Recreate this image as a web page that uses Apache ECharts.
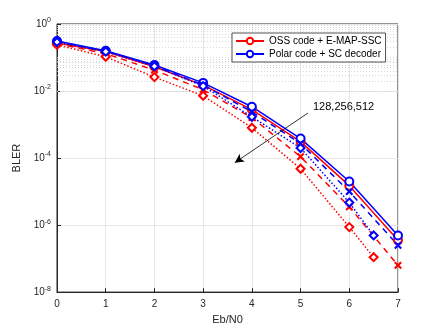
<!DOCTYPE html>
<html>
<head>
<meta charset="utf-8">
<script src="https://cdn.jsdelivr.net/npm/echarts@6/dist/echarts.min.js"></script>
<style>
    html, body { margin: 0; padding: 0; background: #fff; }
    #chart { width: 440px; height: 330px; }
</style>
</head>
<body>
<div id="chart"></div>
<script>
// Eb/N0 points
var snrFull = [0, 1, 2, 3, 4, 5, 6, 7];
var snrShort = [0, 1, 2, 3, 4, 5, 6, 6.5];

// BLER
var ossSolid   = [0.27, 0.15, 0.053, 0.015, 0.0028, 3.1e-4, 1.5e-5, 3.5e-7];
var ossDashed  = [0.26, 0.13, 0.042, 0.011, 0.0016, 1.1e-4, 3.5e-6, 6.3e-8];
var ossDotted  = [0.24, 0.105, 0.026, 0.0072, 0.0008, 4.8e-5, 8.7e-7, 1.1e-7];
var polSolid   = [0.31, 0.16, 0.06, 0.0175, 0.0034, 3.8e-4, 2.0e-5, 4.9e-7];
var polDashed  = [0.30, 0.155, 0.057, 0.015, 0.0024, 2.7e-4, 1.0e-5, 2.5e-7];
var polDotted  = [0.29, 0.15, 0.055, 0.014, 0.0017, 2.0e-4, 4.7e-6, 4.9e-7];

var legendNames = ['OSS code + E-MAP-SSC', 'Polar code + SC decoder'];
var annotText = '128,256,512';
// arrow start / end in data space
var arrowFrom = [5.15, 2.2e-3];
var arrowTo = [3.65, 7.3e-5];

var RED = '#ff0000', BLUE = '#0000ff';
var CROSS = 'path://M0,1L1,0L5,4L9,0L10,1L6,5L10,9L9,10L5,6L1,10L0,9L4,5Z';

function pairs(xs, ys) {
    var out = [];
    for (var i = 0; i < xs.length; i++) {
        out.push([xs[i], ys[i]]);
    }
    return out;
}

// minor (dotted) grid lines for the log axis
var minorLines = [];
for (var k = -8; k < 0; k++) {
    for (var m = 1; m <= 9; m++) {
        if (m == 1 && k % 2 == 0) continue;
        minorLines.push({ yAxis: m * Math.pow(10, k) });
    }
}

function makeSeries(name, xs, ys, color, type, symbol, size) {
    return {
        name: name,
        type: 'line',
        data: pairs(xs, ys),
        symbol: symbol,
        symbolSize: size,
        showSymbol: true,
        lineStyle: { color: color, width: 1.5, type: type },
        itemStyle: { color: color, borderColor: color, borderWidth: 1.3 },
        z: 3
    };
}

var series = [
    makeSeries(legendNames[0], snrFull, ossSolid, RED, 'solid', 'emptyCircle', 8),
    makeSeries(legendNames[1], snrFull, polSolid, BLUE, 'solid', 'emptyCircle', 8),
    makeSeries(legendNames[0], snrFull, ossDashed, RED, [6, 5], CROSS, 6),
    makeSeries(legendNames[1], snrFull, polDashed, BLUE, [6, 5], CROSS, 6),
    makeSeries(legendNames[0], snrShort, ossDotted, RED, [1.5, 2], 'emptyDiamond', 8),
    makeSeries(legendNames[1], snrShort, polDotted, BLUE, [1.5, 2], 'emptyDiamond', 8)
];

series[0].markLine = {
    silent: true,
    symbol: ['none', 'none'],
    label: { show: false },
    lineStyle: { color: '#cfcfcf', type: [1, 2], width: 0.8 },
    data: minorLines,
    z: 1
};
series[1].markLine = {
    silent: true,
    symbol: ['none', 'arrow'],
    symbolSize: [7, 9],
    label: { show: false },
    lineStyle: { color: '#000', type: 'solid', width: 0.8 },
    data: [[{ coord: arrowFrom }, { coord: arrowTo }]],
    z: 5
};

var chart = echarts.init(document.getElementById('chart'));
chart.setOption({
    animation: false,
    backgroundColor: '#fff',
    textStyle: { fontFamily: 'Liberation Sans, Arial, sans-serif' },
    grid: {
        left: 57, right: 42, top: 24, bottom: 37,
        show: true, borderColor: '#262626', borderWidth: 1
    },
    legend: {
        data: legendNames,
        orient: 'vertical',
        left: 232, top: 33,
        itemWidth: 28, itemHeight: 8, itemGap: 3,
        padding: [3, 4, 3, 3],
        backgroundColor: '#fff',
        borderColor: '#262626', borderWidth: 0.8, borderRadius: 0,
        textStyle: { fontSize: 10, color: '#000' }
    },
    xAxis: {
        type: 'value',
        min: 0, max: 7, interval: 1,
        name: 'Eb/N0', nameLocation: 'middle', nameGap: 20,
        nameTextStyle: { fontSize: 11, color: '#262626' },
        axisLine: { lineStyle: { color: '#262626' } },
        axisTick: { inside: true, length: 4, lineStyle: { color: '#262626' } },
        axisLabel: { fontSize: 10, color: '#262626', margin: 7 },
        splitLine: { show: true, lineStyle: { color: '#e6e6e6', width: 1 } }
    },
    yAxis: {
        type: 'log', logBase: 10,
        min: 1e-8, max: 1, interval: 2,
        name: 'BLER', nameLocation: 'middle', nameGap: 28, nameRotate: 90,
        nameTextStyle: { fontSize: 11, color: '#262626' },
        axisLine: { show: true, lineStyle: { color: '#262626' } },
        axisTick: { inside: true, length: 4, lineStyle: { color: '#262626' } },
        axisLabel: {
            color: '#262626', margin: 6,
            formatter: function (v) {
                var e = Math.round(Math.log(v) / Math.LN10);
                return '{b|10}{s|' + e + '}';
            },
            rich: {
                b: { fontSize: 10, color: '#262626' },
                s: { fontSize: 7, color: '#262626', verticalAlign: 'bottom', padding: [0, 0, 7, 0] }
            }
        },
        splitLine: { show: true, lineStyle: { color: '#e6e6e6', width: 1 } }
    },
    graphic: [{
        type: 'text',
        left: 313, top: 101,
        style: { text: annotText, fontSize: 11, fill: '#000', fontFamily: 'Liberation Sans, Arial, sans-serif' },
        z: 10
    }],
    series: series
});
</script>
</body>
</html>
